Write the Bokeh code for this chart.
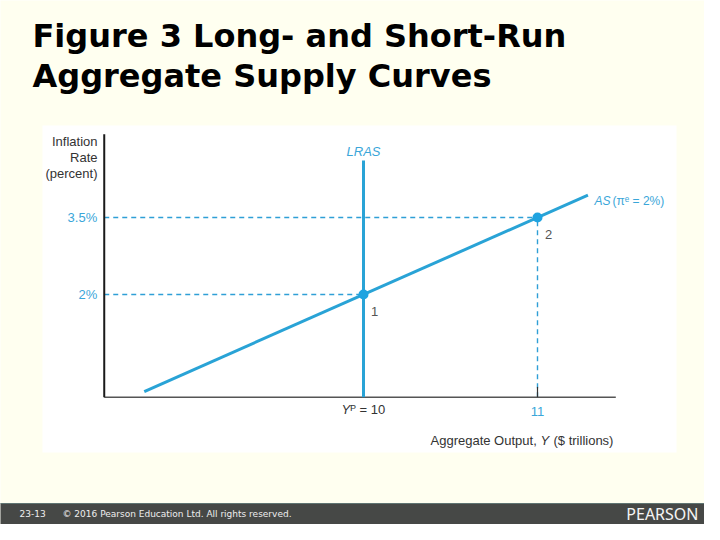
from bokeh.plotting import figure
from bokeh.models import Range1d
from bokeh.core.properties import value
from bokeh.embed import file_html
from bokeh.resources import INLINE

# ---------------- data ----------------
potential_output = 10.0          # Y^P (LRAS position)
output_ticks = [10.0, 11.0]
inflation_ticks = [2.0, 3.5]
inflation_tick_labels = ["2%", "3.5%"]
as_x = [8.74, 11.29]             # short-run AS line endpoints
as_y = [0.11, 3.935]
point_x = [10.0, 11.0]
point_y = [2.0, 3.5]
point_labels = ["1", "2"]
lras_top = 4.61
axis_x = [8.51, 11.45]           # extent of output axis
axis_y = [0.0, 5.12]             # extent of inflation axis

# ---------------- layout helpers (reference pixel -> data) ----------------
def X(px):
    return 10 + (px - 363) / 174.0

def Y(py):
    return 2 - (py - 294) / (77 / 1.5)

BLUE = "#29a3d6"
TBLUE = "#3aa6d9"
DBLUE = "#2f9fd6"
GRAY = "#333333"
CREAM = "#FFFFF0"
F = value("Liberation Sans")

W, H = 704, 524
p = figure(width=W, height=H, output_backend="svg", toolbar_location=None,
           x_range=Range1d(X(0), X(W)), y_range=Range1d(Y(H), Y(0)),
           min_border=0, background_fill_color=CREAM, border_fill_color=CREAM)
p.axis.visible = False
p.grid.visible = False
p.outline_line_color = None

# white chart panel and footer bar
p.quad(left=[X(42)], right=[X(676)], top=[Y(125)], bottom=[Y(452)],
       fill_color="white", line_color=None)
p.quad(left=[X(-5)], right=[X(W + 5)], top=[Y(503)], bottom=[Y(H + 5)],
       fill_color="#464846", line_color=None)
p.segment(x0=[X(-5)], x1=[X(W + 5)], y0=[Y(503)], y1=[Y(503)], line_color="#5f7472", line_width=1)

# title
p.text(x=[X(32), X(32)], y=[Y(35), Y(75)],
       text=["Figure 3 Long- and Short-Run", "Aggregate Supply Curves"],
       text_font=value("DejaVu Sans"), text_font_style="bold", text_font_size="32px",
       text_color="black", text_baseline="alphabetic", text_align="left")

# dashed guides
p.segment(x0=[axis_x[0], axis_x[0]], x1=[point_x[1], point_x[0]],
          y0=[point_y[1], point_y[0]], y1=[point_y[1], point_y[0]],
          line_color=DBLUE, line_width=1.4, line_dash="5 4")
p.segment(x0=[point_x[1]], x1=[point_x[1]], y0=[axis_y[0]], y1=[point_y[1]],
          line_color=DBLUE, line_width=1.4, line_dash="5 4")

# axes
p.segment(x0=[axis_x[0]], x1=[axis_x[1]], y0=[axis_y[0]], y1=[axis_y[0]],
          line_color="#555555", line_width=1.5)
p.segment(x0=[axis_x[0]], x1=[axis_x[0]], y0=[axis_y[0]], y1=[axis_y[1]],
          line_color="#1a1a1a", line_width=2)
p.segment(x0=[output_ticks[1]], x1=[output_ticks[1]], y0=[axis_y[0]], y1=[axis_y[0] + 0.2],
          line_color="#333333", line_width=1.2)

# LRAS and AS
p.segment(x0=[potential_output], x1=[potential_output], y0=[axis_y[0]], y1=[lras_top],
          line_color=BLUE, line_width=3)
p.line(as_x, as_y, line_color=BLUE, line_width=3)
p.scatter(point_x, point_y, size=10, fill_color="#1fa3e0", line_color=None)

# axis texts
p.text(x=[X(97)] * 3, y=[Y(141), Y(157), Y(173)], text=["Inflation", "Rate", "(percent)"],
       text_font=F, text_font_size="13px", text_color=GRAY,
       text_align="right", text_baseline="middle")
p.text(x=[axis_x[0] - 7 / 174.0] * 2, y=inflation_ticks, text=inflation_tick_labels,
       text_font=F, text_font_size="13px", text_color=TBLUE,
       text_align="right", text_baseline="middle")
p.text(x=[output_ticks[1]], y=[axis_y[0] - 14 / 51.333], text=["11"],
       text_font=F, text_font_size="13px", text_color=TBLUE,
       text_align="center", text_baseline="middle")
p.text(x=[X(341)], y=[Y(409)], text=["Y"], text_font=F, text_font_style="italic",
       text_font_size="13px", text_color=GRAY, text_align="left", text_baseline="middle")
p.text(x=[X(350)], y=[Y(409)], text=["\u1d3e = 10"], text_font=F,
       text_font_size="13px", text_color=GRAY, text_align="left", text_baseline="middle")

p.text(x=[X(430)], y=[Y(440)], text=["Aggregate Output,"], text_font=F,
       text_font_size="13px", text_color=GRAY, text_align="left", text_baseline="middle")
p.text(x=[X(540)], y=[Y(440)], text=["Y"], text_font=F, text_font_style="italic",
       text_font_size="13px", text_color=GRAY, text_align="left", text_baseline="middle")
p.text(x=[X(553)], y=[Y(440)], text=["($ trillions)"], text_font=F,
       text_font_size="13px", text_color=GRAY, text_align="left", text_baseline="middle")

# curve labels
p.text(x=[potential_output], y=[Y(151)], text=["LRAS"], text_font=F, text_font_style="italic",
       text_font_size="13px", text_color=TBLUE, text_align="center", text_baseline="middle")
p.text(x=[X(594)], y=[Y(200)], text=["AS"], text_font=F, text_font_style="italic",
       text_font_size="12px", text_color=TBLUE, text_align="left", text_baseline="middle")
p.text(x=[X(612)], y=[Y(200)], text=["(\u03c0\u1d49 = 2%)"], text_font=F,
       text_font_size="12px", text_color=TBLUE, text_align="left", text_baseline="middle")

# point labels
p.text(x=[px + 11 / 174.0 for px in point_x], y=[py - 17 / 51.333 for py in point_y],
       text=point_labels, text_font=F, text_font_size="13px", text_color="#555555",
       text_align="center", text_baseline="middle")

# footer texts
p.text(x=[X(19), X(62)], y=[Y(513), Y(513)],
       text=["23-13", "\u00a9 2016 Pearson Education Ltd. All rights reserved."],
       text_font=value("DejaVu Sans"), text_font_size="9px", text_color="#eeeeee",
       text_align="left", text_baseline="middle")
p.text(x=[X(698)], y=[Y(513)], text=["PEARSON"], text_font=value("Noto Sans"),
       text_font_size="16px", text_color="#f4f4f4", text_align="right", text_baseline="middle")

open("out.html", "w").write(file_html(p, INLINE))
